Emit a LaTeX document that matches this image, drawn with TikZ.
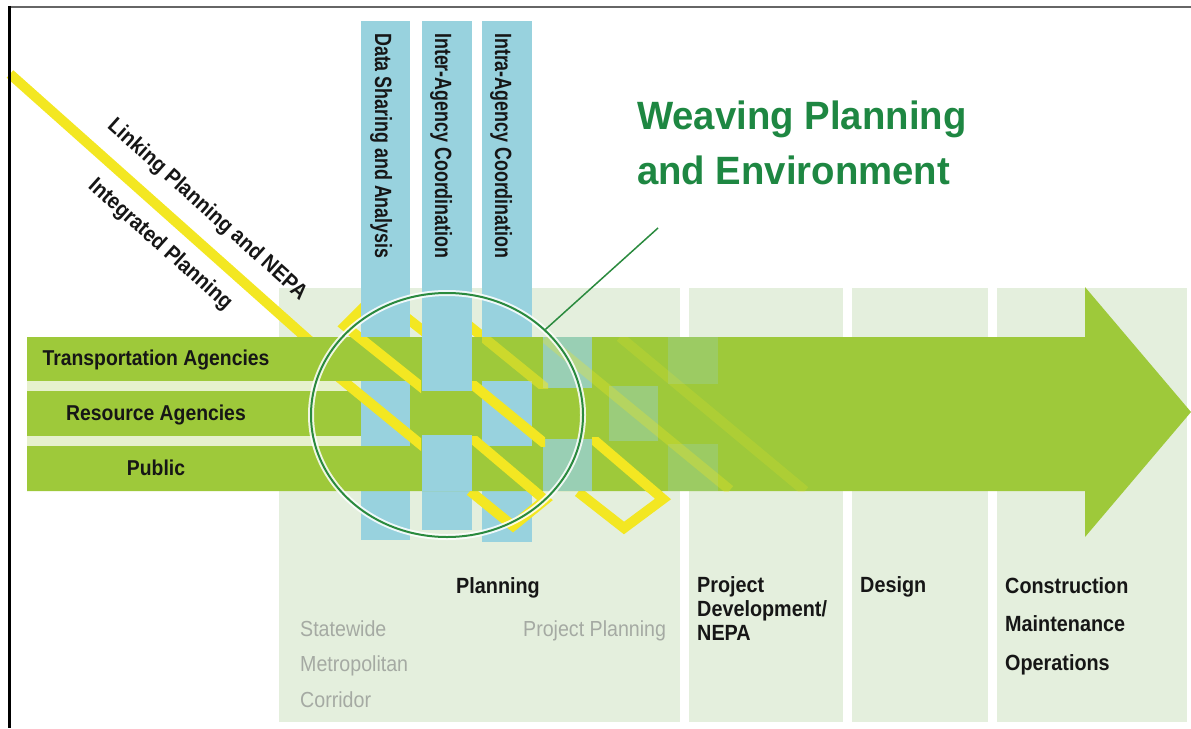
\documentclass[tikz,border=0pt]{standalone}
\usepackage{fontspec}
\setmainfont{Liberation Sans}
\newfontfamily\condfont{Liberation Sans}[FakeStretch=0.9]
\newfontfamily\vertfont{Liberation Sans}[FakeStretch=0.76]
\newfontfamily\titlefont{Liberation Sans}[FakeStretch=0.97]
\usetikzlibrary{shapes.geometric}
\definecolor{panelgreen}{RGB}{228,239,221}
\definecolor{arrowgreen}{RGB}{158,201,58}
\definecolor{barblue}{RGB}{152,210,222}
\definecolor{ribbon}{RGB}{243,231,34}
\definecolor{ringgreen}{RGB}{42,138,62}
\definecolor{titlegreen}{RGB}{30,135,66}
\definecolor{softgray}{RGB}{165,170,163}
\definecolor{ink}{RGB}{22,22,22}
\begin{document}
\begin{tikzpicture}[x=1pt,y=-1pt,
  panel/.style={fill=panelgreen},
  bar/.style={fill=barblue},
  rib/.style={draw=ribbon, line width=10pt, line join=miter},
  bandlab/.style={font=\condfont\bfseries\fontsize{21.5}{25}\selectfont, text=ink, inner sep=0pt, anchor=base},
  vlab/.style={font=\vertfont\bfseries\fontsize{23.5}{27}\selectfont, text=ink, inner sep=0pt, anchor=base west, rotate=-90},
  dlab/.style={font=\condfont\bfseries\fontsize{22}{26}\selectfont, text=ink, inner sep=0pt, rotate=-41.8},
  botlab/.style={font=\condfont\bfseries\fontsize{22}{26}\selectfont, text=ink, inner sep=0pt, anchor=base west},
  graylab/.style={font=\condfont\fontsize{21.8}{26}\selectfont, text=softgray, inner sep=0pt, anchor=base west},
  titlef/.style={font=\titlefont\bfseries\fontsize{39.5}{48}\selectfont, text=titlegreen, inner sep=0pt, anchor=base west}
]
\useasboundingbox (0,0) rectangle (1191,728);
\fill[white] (0,0) rectangle (1191,728);

% phase panels
\fill[panel] (279,288) rectangle (680,722);
\fill[panel] (689,288) rectangle (843,722);
\fill[panel] (852,288) rectangle (988,722);
\fill[panel] (997,288) rectangle (1187,722);

% ribbon pieces lying under bars and bands
\draw[rib] (10,74) -- (330,359);
\draw[rib] (366,305) -- (345,326) -- (430,394);
\draw[rib] (398,311) -- (440,344);
\draw[rib] (462,320) -- (548,390);

% vertical bars
\fill[bar] (361,21) rectangle (410,540);
\fill[bar] (422,21) rectangle (472,530);
\fill[bar] (482,21) rectangle (532,542);

% ribbon loops below the arrow
\draw[rib] (460,428) -- (545,500) -- (513,526) -- (470,491);
\draw[rib] (580,428) -- (663,499) -- (624,528) -- (578,492);

% main arrow
\fill[arrowgreen] (27,337) -- (1085,337) -- (1085,287) -- (1191,412) -- (1085,537) -- (1085,491) -- (27,491) -- cycle;

% bar cells lying over the bands
\fill[bar] (361,381) rectangle (410,446);
\fill[bar] (422,337) rectangle (472,391);
\fill[bar] (422,435) rectangle (472,491);
\fill[bar] (482,381) rectangle (532,446);

% gaps between the three bands
\fill[white, opacity=.75] (27,381) rectangle (361,391);
\fill[white, opacity=.75] (27,436) rectangle (361,446);

% fading cells
\fill[bar, opacity=.75] (543,337) rectangle (592,388);
\fill[bar, opacity=.75] (543,439) rectangle (592,491);
\fill[bar, opacity=.4] (609,386) rectangle (658,441);
\fill[bar, opacity=.25] (668,337) rectangle (718,384);
\fill[bar, opacity=.25] (668,444) rectangle (718,491);

% ribbon pieces lying over the bands
\begin{scope}
  \clip (300,337) rectangle (421,400);
  \draw[rib] (366,305) -- (345,326) -- (430,394);
\end{scope}
\begin{scope}
  \clip (300,381) rectangle (421,460);
  \draw[rib] (330,370) -- (430,452);
\end{scope}
\begin{scope}
  \clip (482,337) rectangle (548,388);
  \draw[rib, opacity=.55] (462,320) -- (548,390);
\end{scope}
\begin{scope}
  \clip (472,381) rectangle (545,446);
  \draw[rib] (455,370) -- (560,456);
\end{scope}
\begin{scope}
  \clip (472,436) rectangle (560,491);
  \draw[rib] (460,428) -- (545,500);
\end{scope}
\begin{scope}
  \clip (592,437) rectangle (700,491);
  \draw[rib] (580,428) -- (663,499);
\end{scope}
\begin{scope}
  \clip (543,337) rectangle (1085,491);
  \draw[rib, opacity=.3] (545,338) -- (730,490);
  \draw[rib, opacity=.18] (620,337) -- (805,491);
\end{scope}

% circle and callout
\draw[white, line width=6pt, opacity=.85] (447,415) ellipse [x radius=136pt, y radius=122pt];
\node[ellipse, minimum width=272pt, minimum height=244pt, inner sep=0pt, draw=ringgreen, line width=2pt] (weave) at (447,415) {};
\coordinate (callend) at (658,228);
\draw[ringgreen, line width=1.5pt] (weave.41) -- (callend);

% title
\node[titlef] (title1) at (637,129) {Weaving Planning};
\node[titlef] (title2) at (637,184) {and Environment};

% bar labels
\node[vlab] (tdata) at (375,33) {Data Sharing and Analysis};
\node[vlab] (tinter) at (435,33) {Inter-Agency Coordination};
\node[vlab] (tintra) at (495,33) {Intra-Agency Coordination};

% diagonal labels
\node[dlab] (tlink) at (207,210) {Linking Planning and NEPA};
\node[dlab] (tinteg) at (160,245) {Integrated Planning};

% band labels
\node[bandlab] (ttrans) at (156,365) {Transportation Agencies};
\node[bandlab] (tres) at (156,420) {Resource Agencies};
\node[bandlab] (tpub) at (156,475) {Public};

% phase labels
\node[botlab] (tplan) at (456,593) {Planning};
\node[graylab] (tstate) at (300,636) {Statewide};
\node[graylab] (tmetro) at (300,671) {Metropolitan};
\node[graylab] (tcorr) at (300,707) {Corridor};
\node[graylab] (tpp) at (523,636) {Project Planning};
\node[botlab] (tpd1) at (697,592) {Project};
\node[botlab] (tpd2) at (697,616) {Development/};
\node[botlab] (tpd3) at (697,640) {NEPA};
\node[botlab] (tdes) at (860,592) {Design};
\node[botlab] (tcon1) at (1005,593) {Construction};
\node[botlab] (tcon2) at (1005,631.5) {Maintenance};
\node[botlab] (tcon3) at (1005,670) {Operations};

% frame
\draw[black!60, line width=2.5pt] (9,7) -- (1191,7);
\draw[black, line width=3.5pt] (9.5,5.75) -- (9.5,728);
\end{tikzpicture}
\end{document}
